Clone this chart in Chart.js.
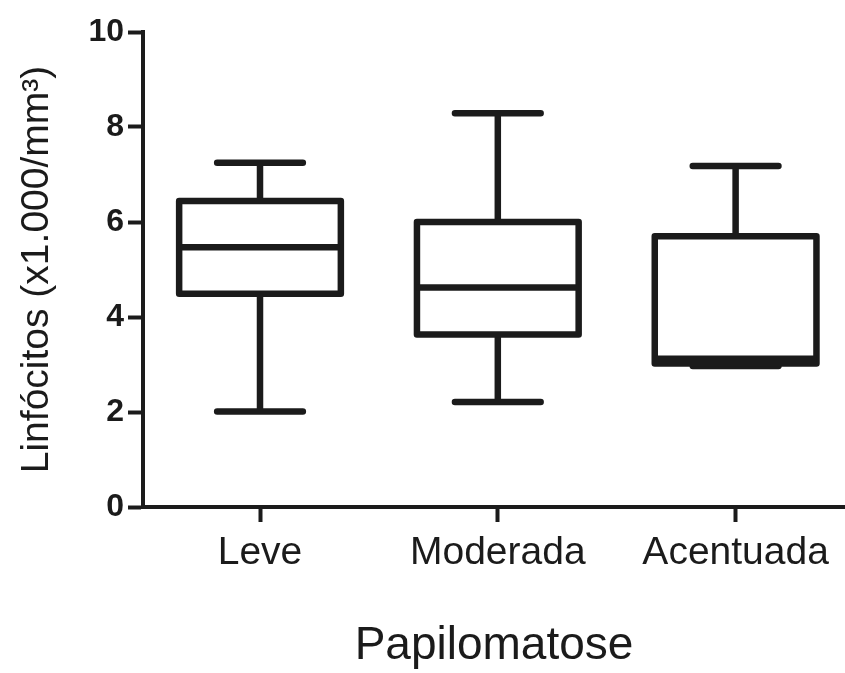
<!DOCTYPE html>
<html>
<head>
<meta charset="utf-8">
<script src="https://cdn.jsdelivr.net/npm/chart.js@4/dist/chart.umd.min.js"></script>
<style>
  html, body { margin: 0; padding: 0; background: #ffffff; }
  #c { display: block; }
</style>
</head>
<body>
<canvas id="c" width="845" height="673"></canvas>
<script>
// ---- data ----
const categories = ['Leve', 'Moderada', 'Acentuada'];
const whiskerMax = [7.25, 8.29, 7.18];
const q3Values   = [6.44, 6.00, 5.70];
const medians    = [5.47, 4.62, 3.12];
const q1Values   = [4.49, 3.63, 3.02];
const whiskerMin = [2.01, 2.21, 2.97];
const yTickValues = [0, 2, 4, 6, 8, 10];
const yTitle = 'Linfócitos (x1.000/mm³)';
const xTitle = 'Papilomatose';

const INK = '#1b1b1b';
const FONT = "'Liberation Sans', Arial, Helvetica, sans-serif";

const boxPlotPlugin = {
  id: 'boxPlotOutline',
  afterDatasetsDraw(chart, args, opts) {
    const ctx = chart.ctx;
    const yS = chart.scales.y;
    const meta = chart.getDatasetMeta(0);
    ctx.save();
    ctx.strokeStyle = INK;
    ctx.lineWidth = opts.lineWidth;
    meta.data.forEach((bar, i) => {
      const x = bar.x;
      const half = bar.width / 2;
      const capHalf = half * opts.capRatio;
      const yMax = yS.getPixelForValue(whiskerMax[i]);
      const yQ3 = yS.getPixelForValue(q3Values[i]);
      const yMed = yS.getPixelForValue(medians[i]);
      const yQ1 = yS.getPixelForValue(q1Values[i]);
      const yMin = yS.getPixelForValue(whiskerMin[i]);
      // whiskers
      ctx.lineCap = 'round';
      ctx.beginPath();
      ctx.moveTo(x, yQ3); ctx.lineTo(x, yMax);
      ctx.moveTo(x - capHalf, yMax); ctx.lineTo(x + capHalf, yMax);
      ctx.moveTo(x, yQ1); ctx.lineTo(x, yMin);
      ctx.moveTo(x - capHalf, yMin); ctx.lineTo(x + capHalf, yMin);
      ctx.stroke();
      // box
      ctx.lineCap = 'butt';
      ctx.lineJoin = 'round';
      ctx.fillStyle = '#ffffff';
      ctx.fillRect(x - half, yQ3, 2 * half, yQ1 - yQ3);
      ctx.beginPath();
      ctx.rect(x - half, yQ3, 2 * half, yQ1 - yQ3);
      ctx.stroke();
      // median
      ctx.beginPath();
      ctx.moveTo(x - half, yMed); ctx.lineTo(x + half, yMed);
      ctx.stroke();
    });
    ctx.restore();
  }
};

const chart = new Chart(document.getElementById('c'), {
  type: 'bar',
  data: {
    datasets: [{
      data: categories.map((c, i) => ({ x: i + 1, y: [q1Values[i], q3Values[i]] })),
      backgroundColor: '#ffffff',
      borderWidth: 0,
      categoryPercentage: 1.0,
      barPercentage: 0.68
    }]
  },
  plugins: [boxPlotPlugin],
  options: {
    responsive: false,
    animation: false,
    devicePixelRatio: 1,
    layout: { padding: { top: 32, right: 0, bottom: 0, left: 0 } },
    plugins: {
      legend: { display: false },
      tooltip: { enabled: false },
      boxPlotOutline: { lineWidth: 6.5, capRatio: 0.53 }
    },
    scales: {
      x: {
        type: 'linear',
        offset: false,
        min: 0.508,
        max: 3.46,
        afterBuildTicks(scale) {
          scale.ticks = categories.map((c, i) => ({ value: i + 1 }));
        },
        afterFit(scale) { scale.height = 166; },
        ticks: {
          autoSkip: false,
          maxRotation: 0,
          padding: 8,
          color: INK,
          font: { family: FONT, size: 39 },
          callback: (v) => categories[Math.round(v) - 1]
        },
        grid: {
          display: true,
          offset: false,
          drawOnChartArea: false,
          drawTicks: true,
          tickLength: 15,
          tickWidth: 4,
          tickColor: INK
        },
        border: { display: true, color: INK, width: 4 },
        title: {
          display: true,
          text: xTitle,
          color: INK,
          font: { family: FONT, size: 46, lineHeight: 1.0 },
          padding: { top: 0, bottom: 4 }
        }
      },
      y: {
        type: 'linear',
        min: 0,
        max: 10,
        afterBuildTicks(scale) {
          scale.ticks = yTickValues.map(v => ({ value: v }));
        },
        afterFit(scale) { scale.width = 143; },
        ticks: {
          padding: 4,
          color: INK,
          font: { family: FONT, size: 32, weight: 'bold' }
        },
        grid: {
          display: true,
          drawOnChartArea: false,
          drawTicks: true,
          tickLength: 15,
          tickWidth: 4,
          tickColor: INK
        },
        border: { display: true, color: INK, width: 4 },
        title: {
          display: true,
          text: yTitle,
          color: INK,
          font: { family: FONT, size: 39 },
          padding: { top: 14, bottom: 0 }
        }
      }
    }
  }
});
</script>
</body>
</html>
